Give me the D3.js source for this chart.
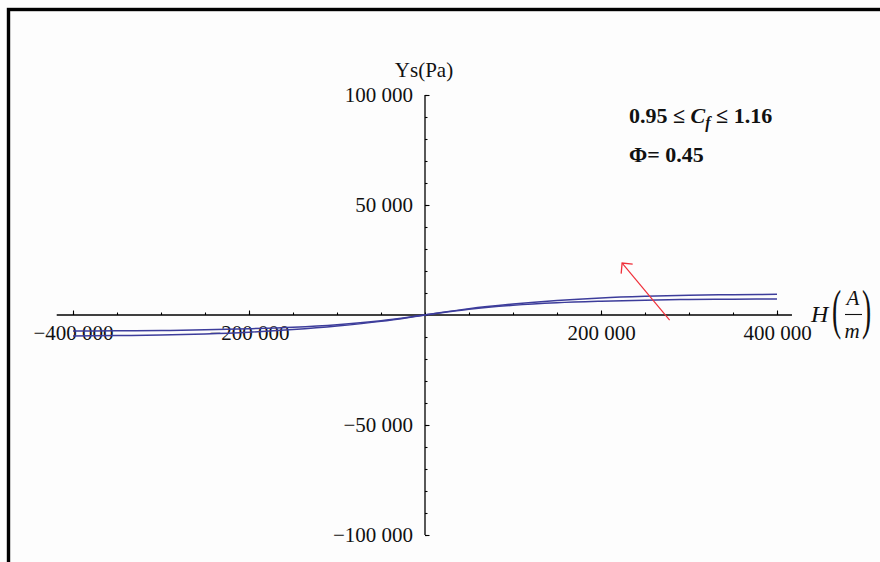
<!DOCTYPE html>
<html>
<head>
<meta charset="utf-8">
<script src="https://cdn.jsdelivr.net/npm/d3@7"></script>
<style>
  html, body { margin: 0; padding: 0; background: #fdfdfd; }
  svg { display: block; }
  text { font-family: "Liberation Serif", "Times New Roman", serif; fill: #111; }
</style>
</head>
<body>
<svg id="chart" width="880" height="562"></svg>
<script>
// Field strength H (A/m) and yield stress Ys (Pa) for the two bounding values of Cf
const fieldH = [-400000, -350000, -300000, -250000, -200000, -150000, -100000, -50000, 0,
                50000, 100000, 150000, 200000, 250000, 300000, 350000, 400000];
const ysHigh = [-9500, -9350, -9100, -8600, -7800, -6600, -5000, -2900, 0,
                2900, 5000, 6600, 7750, 8500, 9000, 9250, 9400];
const ysLow  = [-7300, -7200, -7050, -6750, -6250, -5550, -4400, -2600, 0,
                2600, 4400, 5550, 6250, 6750, 7050, 7200, 7300];

const xMajorTicks = [-400000, -200000, 200000, 400000];
const xMinorTicks = d3.range(-400000, 400001, 50000);
const yMajorTicks = [-100000, -50000, 50000, 100000];
const yMinorTicks = d3.range(-100000, 100001, 10000);
const xAxisExtent = [-418500, 417000];

const svg = d3.select("#chart");

// page frame
svg.append("rect")
  .attr("x", 8.5).attr("y", 9.5)
  .attr("width", 1000).attr("height", 1000)
  .attr("fill", "none").attr("stroke", "#000").attr("stroke-width", 3.4);

const x = d3.scaleLinear().domain([-400000, 400000]).range([73, 777]);
const y = d3.scaleLinear().domain([-100000, 100000]).range([535, 95]);

const fmt = d => d3.format(",")(d).replace(/,/g, " ");

// horizontal axis through y = 0
const gx = svg.append("g").attr("transform", `translate(0,${y(0)})`);
gx.append("g").call(d3.axisBottom(x).tickValues(xMinorTicks).tickSize(-2.5).tickFormat(""))
  .call(g => g.select(".domain").remove());
gx.append("g").call(d3.axisBottom(x).tickValues(xMajorTicks).tickSize(-4.5).tickPadding(10).tickFormat(fmt))
  .call(g => g.select(".domain").remove());
gx.append("line")
  .attr("x1", x(xAxisExtent[0])).attr("x2", x(xAxisExtent[1]))
  .attr("stroke", "#000").attr("stroke-width", 1.3);

// vertical axis through x = 0
const gy = svg.append("g").attr("transform", `translate(${x(0)},0)`);
gy.append("g").call(d3.axisLeft(y).tickValues(yMinorTicks).tickSize(-2.5).tickFormat(""))
  .call(g => g.select(".domain").remove());
gy.append("g").call(d3.axisLeft(y).tickValues(yMajorTicks).tickSize(-4.5).tickPadding(12).tickFormat(fmt))
  .call(g => g.select(".domain").remove());
gy.append("line")
  .attr("y1", y(100000)).attr("y2", y(-100000))
  .attr("stroke", "#000").attr("stroke-width", 1.3);

svg.selectAll(".tick line").attr("stroke", "#000").attr("stroke-width", 1.1);
svg.selectAll(".tick text")
  .attr("font-family", "Liberation Serif, Times New Roman, serif")
  .attr("font-size", 21).attr("fill", "#111");

// axis titles
svg.append("text")
  .attr("x", x(0) - 1).attr("y", 77)
  .attr("text-anchor", "middle").attr("font-size", 21)
  .text("Ys(Pa)");

const hLabel = svg.append("g");
hLabel.append("text").attr("x", 811).attr("y", 322)
  .attr("font-size", 24).attr("font-style", "italic").text("H");
hLabel.append("text").attr("transform", "translate(832,328) scale(0.5,1)")
  .attr("font-size", 55).text("(");
hLabel.append("text").attr("transform", "translate(862,328) scale(0.5,1)")
  .attr("font-size", 55).text(")");
hLabel.append("text").attr("x", 853).attr("y", 305).attr("text-anchor", "middle")
  .attr("font-size", 21).attr("font-style", "italic").text("A");
hLabel.append("line").attr("x1", 845).attr("x2", 862).attr("y1", 314.5).attr("y2", 314.5)
  .attr("stroke", "#111").attr("stroke-width", 1.1);
hLabel.append("text").attr("x", 852).attr("y", 338).attr("text-anchor", "middle")
  .attr("font-size", 21).attr("font-style", "italic").text("m");

// parameter annotation
const note1 = svg.append("text").attr("x", 629).attr("y", 123)
  .attr("font-size", 22).attr("font-weight", "bold");
note1.append("tspan").text("0.95 ≤ ");
note1.append("tspan").attr("font-style", "italic").text("C");
note1.append("tspan").attr("font-style", "italic").attr("font-size", 16).attr("dy", 5).text("f");
note1.append("tspan").attr("dy", -5).text(" ≤ 1.16");
svg.append("text").attr("x", 629).attr("y", 162)
  .attr("font-size", 22).attr("font-weight", "bold")
  .text("Φ= 0.45");

// curves
const line = d3.line()
  .x((d, i) => x(fieldH[i]))
  .y(d => y(d))
  .curve(d3.curveMonotoneX);

[ysHigh, ysLow].forEach(series => {
  svg.append("path")
    .datum(series)
    .attr("d", line)
    .attr("fill", "none")
    .attr("stroke", "#3d3d9b")
    .attr("stroke-width", 1.5);
});

// pointer arrow
const defs = svg.append("defs");
defs.append("marker")
  .attr("id", "barb").attr("markerUnits", "userSpaceOnUse")
  .attr("viewBox", "-12 -9 14 18").attr("refX", 0).attr("refY", 0)
  .attr("markerWidth", 14).attr("markerHeight", 18).attr("orient", "auto")
  .append("path").attr("d", "M-7.5,-7.5L0,0L-7.5,7.5")
  .attr("fill", "none").attr("stroke", "#f0303a").attr("stroke-width", 1.3);

const arrowFrom = [278000, -2300];
const arrowTo = [224000, 23600];
svg.append("line")
  .attr("x1", x(arrowFrom[0])).attr("y1", y(arrowFrom[1]))
  .attr("x2", x(arrowTo[0])).attr("y2", y(arrowTo[1]))
  .attr("stroke", "#f0303a").attr("stroke-width", 1.2)
  .attr("marker-end", "url(#barb)");
</script>
</body>
</html>
